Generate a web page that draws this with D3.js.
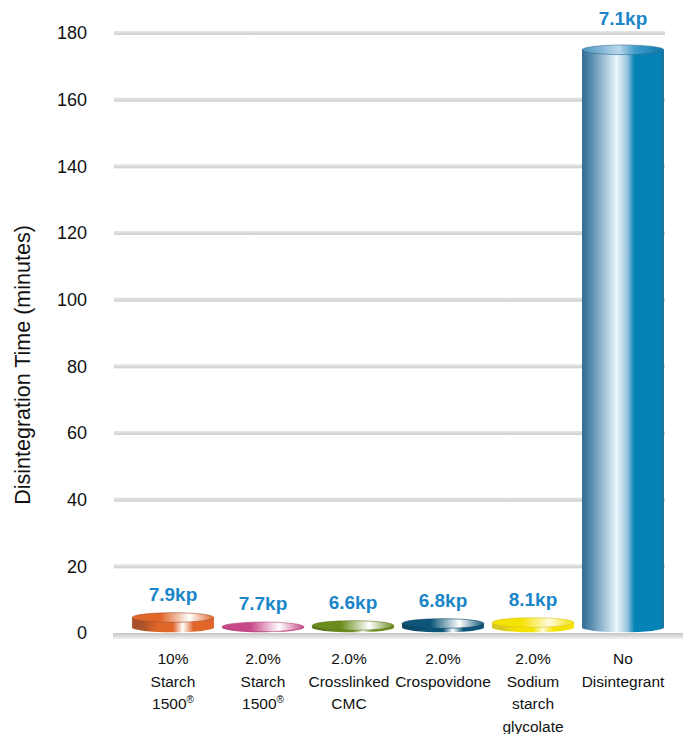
<!DOCTYPE html>
<html lang="en">
<head>
<meta charset="utf-8">
<title>Disintegration Time</title>
<script src="https://d3js.org/d3.v7.min.js"></script>
<style>
  body { margin: 0; background: #fff; }
  text { font-family: "Liberation Sans", Arial, sans-serif; }
</style>
</head>
<body>
<div id="chart"></div>
<script>
// data
var categories = ["10% Starch 1500", "2.0% Starch 1500", "2.0% Crosslinked CMC", "2.0% Crospovidone", "2.0% Sodium starch glycolate", "No Disintegrant"];
var catLines = [["10%", "Starch", "1500®"], ["2.0%", "Starch", "1500®"], ["2.0%", "Crosslinked", "CMC"], ["2.0%", "Crospovidone"], ["2.0%", "Sodium", "starch", "glycolate"], ["No", "Disintegrant"]];
var times = [3.0, 0.2, 0.6, 1.2, 1.5, 173.3];
var hardness = ["7.9kp", "7.7kp", "6.6kp", "6.8kp", "8.1kp", "7.1kp"];
var yTicks = [0, 20, 40, 60, 80, 100, 120, 140, 160, 180];
// base colour / dark edge / highlight for each cylinder
var barColors = [
  ["#e0662a", "#a9512a", "#ffffff"],
  ["#c9488a", "#b04a7a", "#ffffff"],
  ["#6b8c1c", "#5a7420", "#ffffff"],
  ["#0e5679", "#0c4763", "#ffffff"],
  ["#f4e200", "#d8c820", "#fffbe0"],
  ["#0583b6", "#2d6b90", "#eaf5fc"]
];

var W = 683, H = 734;
var svg = d3.select("#chart").append("svg")
  .attr("width", W).attr("height", H);

var x = d3.scaleBand()
  .domain(categories)
  .range([128, 668])
  .paddingInner(0.09)
  .paddingOuter(0.045);

var y = d3.scaleLinear()
  .domain([0, 180])
  .range([633, 33]);

var defs = svg.append("defs");

// gridline gradient
var gg = defs.append("linearGradient").attr("id", "grid").attr("x1", 0).attr("y1", 0).attr("x2", 0).attr("y2", 1);
gg.append("stop").attr("offset", 0).attr("stop-color", "#e6e6e6");
gg.append("stop").attr("offset", 1).attr("stop-color", "#cfcfcf");
var bg = defs.append("linearGradient").attr("id", "base").attr("x1", 0).attr("y1", 0).attr("x2", 0).attr("y2", 1);
bg.append("stop").attr("offset", 0).attr("stop-color", "#c4c4c4");
bg.append("stop").attr("offset", 1).attr("stop-color", "#f2f2f2");

// gridlines
svg.append("g").selectAll("rect")
  .data(yTicks.filter(function(d) { return d > 0; }))
  .enter().append("rect")
    .attr("x", 114).attr("width", 551)
    .attr("y", function(d) { return y(d) - 2; })
    .attr("height", 4)
    .attr("fill", "url(#grid)");

svg.append("rect")
  .attr("x", 113).attr("width", 570)
  .attr("y", y(0)).attr("height", 6)
  .attr("fill", "url(#base)");

// y axis labels
var yAxis = d3.axisLeft(y).tickValues(yTicks).tickSize(0).tickPadding(0);
svg.append("g")
  .attr("transform", "translate(87,0)")
  .call(yAxis)
  .call(function(g) { g.select(".domain").remove(); })
  .selectAll("text")
    .attr("font-size", 18)
    .attr("fill", "#111")
    .attr("font-family", "Liberation Sans, Arial, sans-serif");

svg.append("text")
  .attr("transform", "translate(30,365) rotate(-90)")
  .attr("text-anchor", "middle")
  .attr("font-size", 21.5)
  .attr("fill", "#111")
  .text("Disintegration Time (minutes)");

// cylinder gradients
barColors.forEach(function(c, i) {
  var side = defs.append("linearGradient").attr("id", "side" + i)
    .attr("x1", 0).attr("y1", 0).attr("x2", 1).attr("y2", 0);
  var stops = i === 5
    ? [[0, c[1]], [0.12, "#5b8fb0"], [0.42, c[2]], [0.55, "#9ec6df"], [0.64, c[0]], [0.95, c[0]], [1, "#1a6f99"]]
    : [[0, c[1]], [0.12, c[1]], [0.3, c[0]], [0.5, c[0]], [0.62, c[2]], [0.75, c[0]], [1, c[0]]];
  stops.forEach(function(s) {
    side.append("stop").attr("offset", s[0]).attr("stop-color", s[1]);
  });
  var top = defs.append("linearGradient").attr("id", "top" + i)
    .attr("x1", 0).attr("y1", 0).attr("x2", 1).attr("y2", 0);
  var tstops = i === 5
    ? [[0, "#4d93bd"], [0.45, "#b9d8ec"], [0.65, "#3f9ccb"], [1, "#0c79aa"]]
    : [[0, c[0]], [0.35, c[0]], [0.7, c[2]], [1, c[0]]];
  tstops.forEach(function(s) {
    top.append("stop").attr("offset", s[0]).attr("stop-color", s[1]);
  });
});

var ry = 4.8, lift = 5.5;
var bars = svg.append("g").selectAll("g")
  .data(categories)
  .enter().append("g");

bars.append("path")
  .attr("fill", function(d, i) { return "url(#side" + i + ")"; })
  .attr("d", function(d, i) {
    var x0 = x(d), x1 = x(d) + x.bandwidth(), rx = x.bandwidth() / 2;
    var yt = y(times[i]) - lift, yb = y(0) - lift;
    return "M" + x0 + "," + yt + "L" + x0 + "," + yb +
      "A" + rx + "," + ry + " 0 0 0 " + x1 + "," + yb +
      "L" + x1 + "," + yt + "Z";
  });

bars.append("ellipse")
  .attr("cx", function(d) { return x(d) + x.bandwidth() / 2; })
  .attr("cy", function(d, i) { return y(times[i]) - lift; })
  .attr("rx", x.bandwidth() / 2)
  .attr("ry", ry)
  .attr("fill", function(d, i) { return "url(#top" + i + ")"; })
  .attr("stroke", function(d, i) { return barColors[i][1]; })
  .attr("stroke-width", 0.6);

// hardness labels (the tall bar's sits a little higher)
bars.append("text")
  .attr("x", function(d) { return x(d) + x.bandwidth() / 2; })
  .attr("y", function(d, i) { return y(times[i]) - lift - (i === 5 ? 25 : 17); })
  .attr("text-anchor", "middle")
  .attr("font-size", 19)
  .attr("font-weight", "bold")
  .attr("fill", "#1a86c8")
  .text(function(d, i) { return hardness[i]; });

// category labels
var cat = svg.append("g").selectAll("text")
  .data(categories)
  .enter().append("text")
    .attr("x", function(d) { return x(d) + x.bandwidth() / 2; })
    .attr("y", 664)
    .attr("text-anchor", "middle")
    .attr("font-size", 15.5)
    .attr("fill", "#111");

cat.each(function(d, i) {
  var t = d3.select(this);
  catLines[i].forEach(function(line, j) {
    var ts = t.append("tspan")
      .attr("x", x(d) + x.bandwidth() / 2 - (i === 2 ? 4 : 0))
      .attr("dy", j === 0 ? 0 : 22.5);
    if (line.indexOf("®") >= 0) {
      ts.text(line.replace("®", ""));
      ts.append("tspan").attr("font-size", 10).attr("dy", -6).text("®");
      ts.append("tspan").attr("font-size", 1).attr("dy", 6).text(" ");
    } else {
      ts.text(line);
    }
  });
});
</script>
</body>
</html>
